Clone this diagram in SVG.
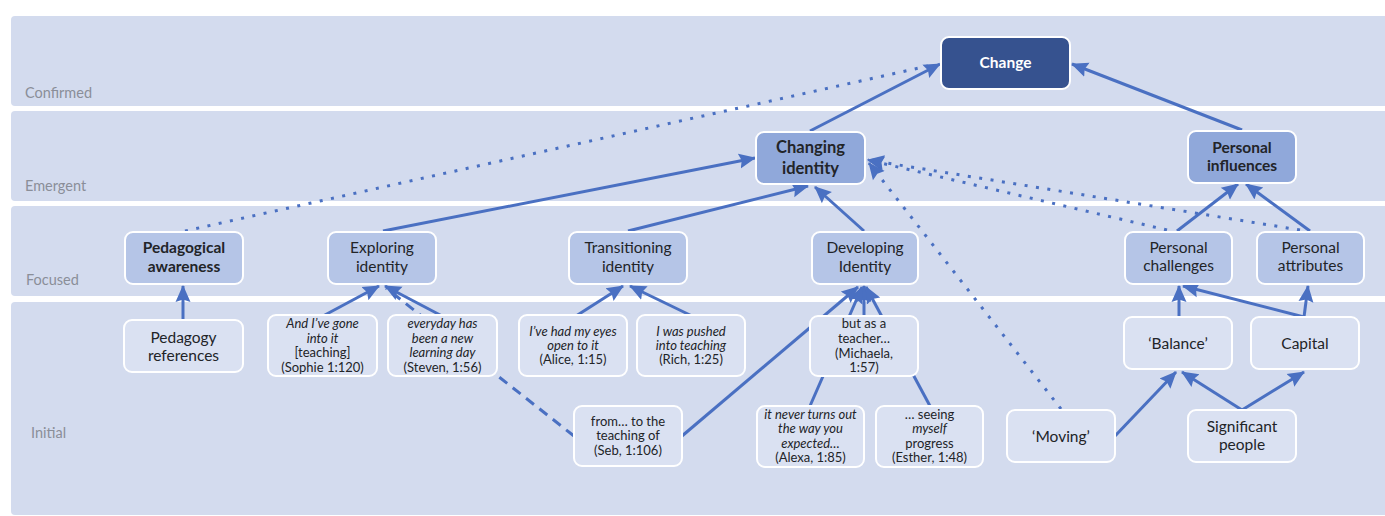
<svg xmlns="http://www.w3.org/2000/svg" width="1385" height="516" viewBox="0 0 1385 516">
<defs>
<style>
.band{fill:#d3dbee}
.blabel{font-family:Lato,"Liberation Sans",sans-serif;font-size:14.5px;fill:#8a8e98}
.n rect{stroke:#ffffff;stroke-width:2}
.top rect{fill:#36528f}
.emg rect{fill:#90a8da}
.foc rect{fill:#b5c5e7}
.ini rect{fill:#dae1f2}
text{font-family:Lato,"Liberation Sans",sans-serif;fill:#222428;text-anchor:middle}
.blabel{text-anchor:start}
.b{font-weight:bold}
.t15{font-size:15.5px}
.t16{font-size:16.5px}
.q{font-size:13px}
.i{font-style:italic}
.w{fill:#ffffff}
.c{stroke:#4a70c2;stroke-width:3;fill:none}
.dot{stroke-dasharray:3 8.5}
.dash{stroke-dasharray:10 7}
</style>
<marker id="ah" markerUnits="userSpaceOnUse" markerWidth="17" markerHeight="17" viewBox="0 0 17 17" refX="16" refY="8.5" orient="auto">
<path d="M0,1 L17,8.5 L0,16 L2.5,8.5 z" fill="#4a70c2"/>
</marker>
</defs>
<rect width="1385" height="516" fill="#ffffff"/>
<g id="bands">
<rect class="band" x="11" y="16" width="1400" height="90" rx="4"/>
<rect class="band" x="11" y="111" width="1400" height="90" rx="4"/>
<rect class="band" x="11" y="206" width="1400" height="90" rx="4"/>
<rect class="band" x="11" y="302" width="1400" height="213" rx="4"/>
<text class="blabel" x="25" y="98">Confirmed</text>
<text class="blabel" x="25" y="191">Emergent</text>
<text class="blabel" x="26" y="285">Focused</text>
<text class="blabel" x="31" y="438">Initial</text>
</g>
<g id="connectors">
<path class="c" marker-end="url(#ah)" d="M183,320 L183,286"/>
<path class="c" marker-end="url(#ah)" d="M323,316 L379,286"/>
<path class="c" marker-end="url(#ah)" d="M442,316 L385,286"/>
<path class="c dash" d="M574,436 L386,288"/>
<path class="c" marker-end="url(#ah)" d="M383,231 L755,158"/>
<path class="c" marker-end="url(#ah)" d="M628,231 L808,186"/>
<path class="c" marker-end="url(#ah)" d="M864,231 L815,187"/>
<path class="c" marker-end="url(#ah)" d="M810,131 L940,64"/>
<path class="c" marker-end="url(#ah)" d="M1242,130 L1072,64"/>
<path class="c" marker-end="url(#ah)" d="M1177,231 L1238,184"/>
<path class="c" marker-end="url(#ah)" d="M1310,231 L1246,184"/>
<path class="c dot" d="M185,231 L928,66"/>
<path class="c dot" marker-end="url(#ah)" d="M1167,230 L868,160"/>
<path class="c dot" marker-end="url(#ah)" d="M1300,230 L868,160"/>
<path class="c dot" marker-end="url(#ah)" d="M1061,409 L869,163"/>
<path class="c" marker-end="url(#ah)" d="M864,316 L864,286"/>
<path class="c" marker-end="url(#ah)" d="M810,406 L862,287"/>
<path class="c" marker-end="url(#ah)" d="M930,406 L866,287"/>
<path class="c" marker-end="url(#ah)" d="M682,436 L858,287"/>
<path class="c" marker-end="url(#ah)" d="M576,316 L623,286"/>
<path class="c" marker-end="url(#ah)" d="M692,316 L630,286"/>
<path class="c" marker-end="url(#ah)" d="M1179,317 L1179,286"/>
<path class="c" marker-end="url(#ah)" d="M1304,317 L1308,286"/>
<path class="c" marker-end="url(#ah)" d="M1304,317 L1183,286"/>
<path class="c" marker-end="url(#ah)" d="M1115,436 L1176,372"/>
<path class="c" marker-end="url(#ah)" d="M1242,410 L1182,372"/>
<path class="c" marker-end="url(#ah)" d="M1242,410 L1304,372"/>
</g>
<g id="change" class="n top"><rect x="941" y="37" width="129" height="52" rx="8"/><text class="b t15 w" x="1005.5" y="68">Change</text></g>
<g id="changing-identity" class="n emg"><rect x="756" y="132" width="109" height="52" rx="8"/><text class="b t16" x="810.5" y="153">Changing</text><text class="b t16" x="810.5" y="174">identity</text></g>
<g id="personal-influences" class="n emg"><rect x="1188" y="131" width="108" height="52" rx="8"/><text class="b t15" x="1242" y="153">Personal</text><text class="b t15" x="1242" y="171">influences</text></g>
<g id="pedagogical-awareness" class="n foc"><rect x="125" y="232" width="118" height="52" rx="8"/><text class="b t15" x="184" y="253">Pedagogical</text><text class="b t15" x="184" y="272">awareness</text></g>
<g id="exploring-identity" class="n foc"><rect x="328" y="232" width="108" height="52" rx="8"/><text class="t15" x="382" y="253">Exploring</text><text class="t15" x="382" y="272">identity</text></g>
<g id="transitioning-identity" class="n foc"><rect x="569" y="232" width="118" height="52" rx="8"/><text class="t15" x="628" y="253">Transitioning</text><text class="t15" x="628" y="272">identity</text></g>
<g id="developing-identity" class="n foc"><rect x="812" y="232" width="106" height="52" rx="8"/><text class="t15" x="865" y="253">Developing</text><text class="t15" x="865" y="272">Identity</text></g>
<g id="personal-challenges" class="n foc"><rect x="1125" y="232" width="107" height="52" rx="8"/><text class="t15" x="1178.5" y="253">Personal</text><text class="t15" x="1178.5" y="271">challenges</text></g>
<g id="personal-attributes" class="n foc"><rect x="1257" y="232" width="107" height="52" rx="8"/><text class="t15" x="1310.5" y="253">Personal</text><text class="t15" x="1310.5" y="271">attributes</text></g>
<g id="pedagogy-references" class="n ini"><rect x="124" y="320" width="119" height="52" rx="8"/><text class="t15" x="183.5" y="343">Pedagogy</text><text class="t15" x="183.5" y="361">references</text></g>
<g id="sophie" class="n ini"><rect x="268" y="315" width="109" height="61" rx="8"/><text class="q i" x="322.5" y="328">And I’ve gone</text><text class="q i" x="322.5" y="343">into it</text><text class="q" x="322.5" y="357">[teaching]</text><text class="q" x="322.5" y="372">(Sophie 1:120)</text></g>
<g id="steven" class="n ini"><rect x="388" y="315" width="109" height="61" rx="8"/><text class="q i" x="442.5" y="328">everyday has</text><text class="q i" x="442.5" y="343">been a new</text><text class="q i" x="442.5" y="357">learning day</text><text class="q" x="442.5" y="372">(Steven, 1:56)</text></g>
<g id="alice" class="n ini"><rect x="519" y="315" width="108" height="61" rx="8"/><text class="q i" x="573" y="336">I’ve had my eyes</text><text class="q i" x="573" y="350">open to it</text><text class="q" x="573" y="364">(Alice, 1:15)</text></g>
<g id="rich" class="n ini"><rect x="637" y="315" width="108" height="61" rx="8"/><text class="q i" x="691" y="336">I was pushed</text><text class="q i" x="691" y="350">into teaching</text><text class="q" x="691" y="364">(Rich, 1:25)</text></g>
<g id="seb" class="n ini"><rect x="574" y="406" width="108" height="60" rx="8"/><text class="q" x="628" y="426">from… to the</text><text class="q" x="628" y="440">teaching of</text><text class="q" x="628" y="455">(Seb, 1:106)</text></g>
<g id="michaela" class="n ini"><rect x="810" y="316" width="108" height="60" rx="8"/><text class="q" x="864" y="328">but as a</text><text class="q" x="864" y="343">teacher…</text><text class="q" x="864" y="358">(Michaela,</text><text class="q" x="864" y="372">1:57)</text></g>
<g id="alexa" class="n ini"><rect x="757" y="406" width="107" height="61" rx="8"/><text class="q i" x="810.5" y="419">it never turns out</text><text class="q i" x="810.5" y="433">the way you</text><text class="q i" x="810.5" y="448">expected…</text><text class="q" x="810.5" y="462">(Alexa, 1:85)</text></g>
<g id="esther" class="n ini"><rect x="876" y="406" width="107" height="61" rx="8"/><text class="q" x="929.5" y="419">… seeing</text><text class="q i" x="929.5" y="433">myself</text><text class="q" x="929.5" y="448">progress</text><text class="q" x="929.5" y="462">(Esther, 1:48)</text></g>
<g id="moving" class="n ini"><rect x="1007" y="410" width="108" height="52" rx="8"/><text class="t15" x="1061" y="442">‘Moving’</text></g>
<g id="significant-people" class="n ini"><rect x="1188" y="410" width="108" height="52" rx="8"/><text class="t15" x="1242" y="432">Significant</text><text class="t15" x="1242" y="450">people</text></g>
<g id="balance" class="n ini"><rect x="1124" y="317" width="108" height="52" rx="8"/><text class="t15" x="1178" y="349">‘Balance’</text></g>
<g id="capital" class="n ini"><rect x="1251" y="317" width="108" height="52" rx="8"/><text class="t15" x="1305" y="349">Capital</text></g>
</svg>
